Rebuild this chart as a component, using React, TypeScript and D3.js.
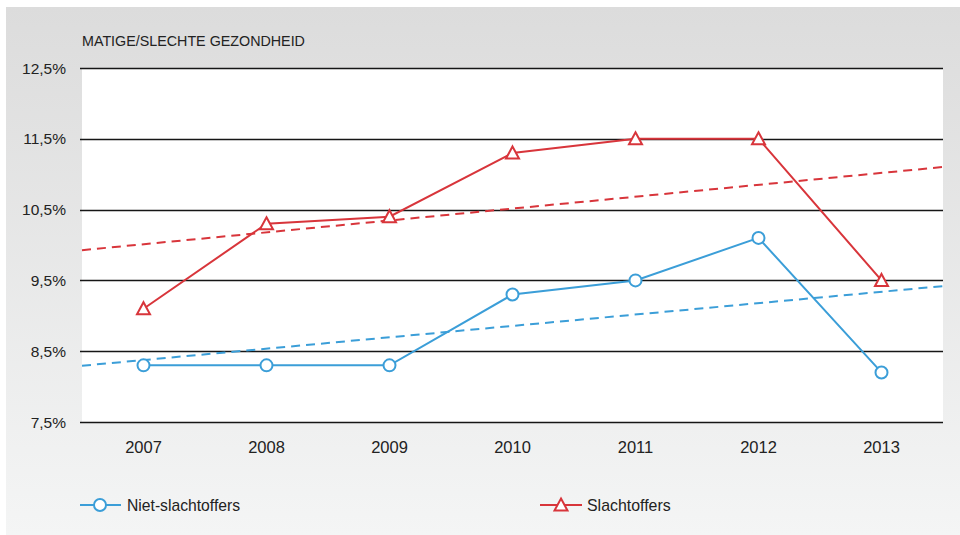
import React from "react";
import * as d3 from "d3";

const years = ["2007", "2008", "2009", "2010", "2011", "2012", "2013"];
const nietSlachtoffers = [8.3, 8.3, 8.3, 9.3, 9.5, 10.1, 8.2];
const slachtoffers = [9.1, 10.3, 10.4, 11.3, 11.5, 11.5, 9.5];
const yTicks = [7.5, 8.5, 9.5, 10.5, 11.5, 12.5];
const title = "MATIGE/SLECHTE GEZONDHEID";
const seriesNames = ["Niet-slachtoffers", "Slachtoffers"];

const BLUE = "#3b9ed8";
const RED = "#d8353b";
const FONT = "'Liberation Sans', Arial, sans-serif";

function regression(vals: number[]) {
  const n = vals.length;
  const mx = (n - 1) / 2;
  const my = d3.mean(vals) as number;
  let num = 0, den = 0;
  vals.forEach((v, i) => { num += (i - mx) * (v - my); den += (i - mx) * (i - mx); });
  const slope = num / den;
  return (i: number) => my + slope * (i - mx);
}

export default function App() {
  const W = 960, H = 535;
  const left = 82, right = 943, top = 68, bottom = 422;
  const x = d3.scaleBand<string>().domain(years).range([left, right]);
  const cx = (i: number) => (x(years[i]) as number) + x.bandwidth() / 2;
  const y = d3.scaleLinear().domain([7.5, 12.5]).range([bottom, top]);
  const line = d3.line<number>().x((_, i) => cx(i)).y((d) => y(d));
  const xi = d3.scaleLinear().domain([-0.5, years.length - 0.5]).range([left, right]);

  const trend = (vals: number[]) => {
    const f = regression(vals);
    return { x1: xi(-0.5), y1: y(f(-0.5)), x2: xi(years.length - 0.5), y2: y(f(years.length - 0.5)) };
  };
  const tb = trend(nietSlachtoffers);
  const tr = trend(slachtoffers);

  const tri = (px: number, py: number, s = 6.5) =>
    `M${px},${py - s} L${px + s},${py + s * 0.85} L${px - s},${py + s * 0.85} Z`;

  return (
    <svg width={W} height={H} style={{ position: "absolute", left: 0, top: 0, display: "block" }}>
      <defs>
        <linearGradient id="bg" x1="0" y1="0" x2="0" y2="1">
          <stop offset="0" stopColor="#dcdcdc" />
          <stop offset="1" stopColor="#f4f5f5" />
        </linearGradient>
      </defs>
      <rect x={0} y={0} width={W} height={H} fill="#ffffff" />
      <rect x={6} y={7} width={W - 6} height={H - 7} fill="url(#bg)" />
      <rect x={left} y={top} width={right - left} height={bottom - top} fill="#ffffff" />
      <text x={left} y={46} fontFamily={FONT} fontSize={14.3} fill="#222">{title}</text>
      {yTicks.map((t) => (
        <g key={t}>
          <line x1={left - 2} x2={right} y1={Math.round(y(t)) + 0.5} y2={Math.round(y(t)) + 0.5} stroke="#161616" strokeWidth={1.3} />
          <text x={66} y={y(t) + 5.5} textAnchor="end" fontFamily={FONT} fontSize={15.5} fill="#222">
            {t.toFixed(1).replace(".", ",")}%
          </text>
        </g>
      ))}
      {years.map((yr, i) => (
        <text key={yr} x={cx(i)} y={453} textAnchor="middle" fontFamily={FONT} fontSize={16.5} fill="#222">{yr}</text>
      ))}
      <line {...tr} stroke={RED} strokeWidth={2} strokeDasharray="9,6" />
      <line {...tb} stroke={BLUE} strokeWidth={2} strokeDasharray="9,6" />
      <path d={line(slachtoffers) as string} fill="none" stroke={RED} strokeWidth={2} />
      <path d={line(nietSlachtoffers) as string} fill="none" stroke={BLUE} strokeWidth={2} />
      {slachtoffers.map((v, i) => (
        <path key={i} d={tri(cx(i), y(v))} fill="#fff" stroke={RED} strokeWidth={2} />
      ))}
      {nietSlachtoffers.map((v, i) => (
        <circle key={i} cx={cx(i)} cy={y(v)} r={6} fill="#fff" stroke={BLUE} strokeWidth={2} />
      ))}
      <g>
        <line x1={80} x2={121} y1={505} y2={505} stroke={BLUE} strokeWidth={2} />
        <circle cx={100} cy={505} r={6} fill="#fff" stroke={BLUE} strokeWidth={2} />
        <text x={127} y={510.5} fontFamily={FONT} fontSize={15.7} fill="#222">{seriesNames[0]}</text>
      </g>
      <g>
        <line x1={540} x2={582} y1={505} y2={505} stroke={RED} strokeWidth={2} />
        <path d={tri(561, 505)} fill="#fff" stroke={RED} strokeWidth={2} />
        <text x={587} y={510.5} fontFamily={FONT} fontSize={15.9} fill="#222">{seriesNames[1]}</text>
      </g>
    </svg>
  );
}
